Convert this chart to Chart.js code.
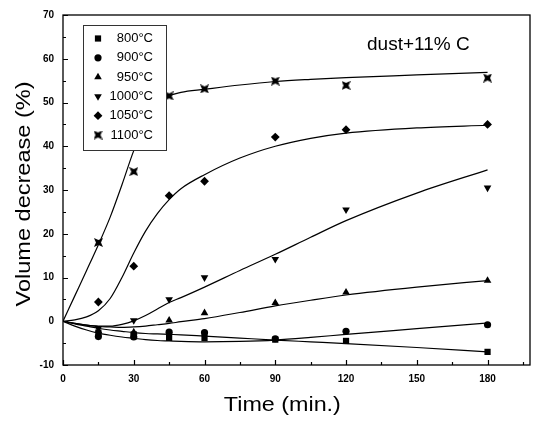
<!DOCTYPE html>
<html>
<head>
<meta charset="utf-8">
<script src="https://cdn.jsdelivr.net/npm/chart.js@4.4.0/dist/chart.umd.min.js"></script>
<style>
html, body { margin: 0; padding: 0; background: #fff; }
#wrap { width: 538px; height: 422px; }
</style>
</head>
<body>
<div id="wrap"><canvas id="chart" width="538" height="422"></canvas></div>
<script>
// measured points (min -> % volume decrease)
const sampleTime = [15, 30, 45, 60, 90, 120, 180];
const temps = ['800°C', '900°C', '950°C', '1000°C', '1050°C', '1100°C'];
const pts800  = [-2.6, -3.0, -3.8, -3.8, -4.2, -4.5, -7.0];
const pts900  = [-3.5, -3.6, -2.5, -2.6, -4.0, -2.3, -0.8];
const pts950  = [-2.2, -2.5, 0.2, 1.9, 4.2, 6.6, 9.3];
const pts1000 = [-1.6, 0.2, 5.0, 10.0, 14.2, 25.5, 30.5];
const pts1050 = [4.4, 12.6, 28.7, 32.0, 42.1, 43.8, 45.0];
const pts1100 = [18.0, 34.2, 51.5, 53.1, 54.9, 53.9, 55.6];

// fitted curves
const fitTime = [0, 5, 10, 15, 20, 25, 30, 35, 40, 45, 50, 60, 75, 90, 105, 120, 150, 180];
const fit800  = [0, -0.6, -1.1, -1.6, -2.0, -2.3, -2.6, -2.8, -2.9, -3.0, -3.1, -3.4, -3.85, -4.3, -4.7, -5.1, -6.0, -7.0];
const fit900  = [0, -1.1, -2.0, -2.7, -3.2, -3.6, -3.9, -4.2, -4.4, -4.5, -4.6, -4.7, -4.6, -4.3, -3.7, -3.0, -1.7, -0.4];
const fit950  = [0, -0.5, -0.9, -1.2, -1.3, -1.4, -1.3, -1.1, -0.8, -0.5, -0.1, 0.6, 2.0, 3.5, 4.8, 6.0, 7.8, 9.3];
const fit1000 = [0, -0.5, -0.9, -1.1, -1.1, -0.7, 0.1, 1.3, 2.8, 4.3, 5.4, 7.8, 11.6, 15.3, 19.2, 23.0, 29.3, 34.6];
const fit1050 = [0, 0.3, 1.0, 2.4, 5.2, 10.0, 15.6, 20.6, 24.6, 27.8, 30.3, 33.5, 37.3, 40.0, 41.8, 43.0, 44.2, 44.8];
const fit1100 = [0, 5.8, 11.6, 17.5, 23.8, 31.2, 39.0, 45.2, 49.3, 51.5, 52.3, 53.0, 54.0, 54.8, 55.3, 55.7, 56.3, 56.9];

const xTicks = [0, 30, 60, 90, 120, 150, 180];
const yTicks = [-10, 0, 10, 20, 30, 40, 50, 60, 70];

const allPts = [pts800, pts900, pts950, pts1000, pts1050, pts1100];
const allFits = [fit800, fit900, fit950, fit1000, fit1050, fit1100];

// bowtie-like marker for 1100°C
function makeBowtie(s) {
    const c = document.createElement('canvas');
    c.width = s; c.height = s;
    const g = c.getContext('2d');
    const h = s / 2, n = s * 0.22;
    g.fillStyle = '#000';
    g.beginPath();
    g.moveTo(0, 0); g.lineTo(h, n); g.lineTo(s, 0); g.lineTo(s - n, h);
    g.lineTo(s, s); g.lineTo(h, s - n); g.lineTo(0, s); g.lineTo(n, h);
    g.closePath();
    g.fill();
    return c;
}
const bowtie = makeBowtie(9);

const markers = [
    { pointStyle: 'rect', radius: 4.4, rotation: 0 },
    { pointStyle: 'circle', radius: 3.6, rotation: 0 },
    { pointStyle: 'triangle', radius: 4.4, rotation: 0 },
    { pointStyle: 'triangle', radius: 4.4, rotation: 180 },
    { pointStyle: 'rectRot', radius: 4.4, rotation: 0 },
    { pointStyle: bowtie, radius: 4.5, rotation: 0 }
];

const datasets = [];
allFits.forEach((fit, i) => {
    datasets.push({
        type: 'line',
        label: temps[i] + ' fit',
        data: fitTime.map((t, k) => ({ x: t, y: fit[k] })),
        borderColor: '#000',
        borderWidth: 1.2,
        pointRadius: 0,
        cubicInterpolationMode: 'monotone',
        fill: false,
        order: 2
    });
});
allPts.forEach((pts, i) => {
    datasets.push({
        type: 'scatter',
        label: temps[i],
        data: sampleTime.map((t, k) => ({ x: t, y: pts[k] })),
        backgroundColor: '#000',
        borderColor: '#000',
        borderWidth: 0,
        pointStyle: markers[i].pointStyle,
        pointRadius: markers[i].radius,
        pointRotation: markers[i].rotation,
        showLine: false,
        order: 1
    });
});

function drawStretchedText(ctx, text, x, y, font, width, angle) {
    ctx.save();
    ctx.font = font;
    const w = ctx.measureText(text).width;
    ctx.translate(x, y);
    ctx.rotate(angle);
    ctx.scale(width / w, 1);
    ctx.textAlign = 'center';
    ctx.textBaseline = 'middle';
    ctx.fillStyle = '#000';
    ctx.fillText(text, 0, 0);
    ctx.restore();
}

const decorations = {
    id: 'decorations',
    afterDatasetsDraw(chart) {
        const ctx = chart.ctx;
        const a = chart.chartArea;
        const xs = chart.scales.x, ys = chart.scales.y;

        // frame
        ctx.save();
        ctx.strokeStyle = '#000';
        ctx.lineWidth = 1.3;
        ctx.strokeRect(a.left, a.top, a.right - a.left, a.bottom - a.top);

        // inward ticks
        ctx.lineWidth = 1.2;
        ctx.beginPath();
        for (let v = 0; v <= 195; v += 15) {
            const px = Math.round(xs.getPixelForValue(v)) + 0.5;
            const len = v % 30 === 0 ? 5 : 3;
            ctx.moveTo(px, a.bottom);
            ctx.lineTo(px, a.bottom - len);
        }
        for (let v = -10; v <= 70; v += 5) {
            const py = Math.round(ys.getPixelForValue(v)) + 0.5;
            const len = v % 10 === 0 ? 5 : 3;
            ctx.moveTo(a.left, py);
            ctx.lineTo(a.left + len, py);
        }
        ctx.stroke();

        // legend box
        const lx = a.left + 20, ly = a.top + 10, lw = 83, lh = 125;
        ctx.fillStyle = '#fff';
        ctx.fillRect(lx, ly, lw, lh);
        ctx.strokeStyle = '#333';
        ctx.lineWidth = 1;
        ctx.strokeRect(lx + 0.5, ly + 0.5, lw, lh);
        ctx.font = '13px "Liberation Sans", Arial, sans-serif';
        ctx.textAlign = 'right';
        ctx.textBaseline = 'middle';
        temps.forEach((t, i) => {
            const ry = ly + 13.5 + i * 19.3;
            ctx.fillStyle = '#000';
            ctx.strokeStyle = '#000';
            Chart.helpers.drawPoint(ctx, {
                pointStyle: markers[i].pointStyle,
                radius: markers[i].radius,
                rotation: markers[i].rotation,
                borderWidth: 0
            }, lx + 15, ry);
            ctx.fillStyle = '#000';
            ctx.fillText(t, lx + 70, ry);
        });

        // annotation
        ctx.textAlign = 'left';
        ctx.textBaseline = 'alphabetic';
        ctx.font = '19px "Liberation Sans", Arial, sans-serif';
        ctx.fillText('dust+11% C', a.left + 304, a.top + 35);
        ctx.restore();

        // axis titles
        const font = '20px "Liberation Sans", Arial, sans-serif';
        drawStretchedText(ctx, 'Time (min.)', xs.getPixelForValue(93), 405, font, 117, 0);
        drawStretchedText(ctx, 'Volume decrease (%)', 24, 194, font, 225, -Math.PI / 2);
    }
};

new Chart(document.getElementById('chart'), {
    data: { datasets: datasets },
    options: {
        responsive: false,
        animation: false,
        events: [],
        layout: { padding: { top: 12, right: 8, left: 0, bottom: 0 } },
        plugins: { legend: { display: false }, tooltip: { enabled: false } },
        scales: {
            x: {
                type: 'linear',
                min: 0,
                max: 198,
                grid: { display: false, drawTicks: false },
                border: { display: false },
                afterBuildTicks: s => { s.ticks = xTicks.map(v => ({ value: v })); },
                afterFit: s => { s.height = 57; },
                ticks: {
                    padding: 8,
                    color: '#000',
                    font: { family: '"Liberation Sans", Arial, sans-serif', size: 10, weight: 'bold' },
                    maxRotation: 0,
                    autoSkip: false
                }
            },
            y: {
                type: 'linear',
                min: -10,
                max: 70,
                grid: { display: false, drawTicks: false },
                border: { display: false },
                afterBuildTicks: s => { s.ticks = yTicks.map(v => ({ value: v })); },
                afterFit: s => { s.width = 63; },
                ticks: {
                    padding: 9,
                    color: '#000',
                    font: { family: '"Liberation Sans", Arial, sans-serif', size: 10, weight: 'bold' },
                    autoSkip: false
                }
            }
        }
    },
    plugins: [decorations]
});
</script>
</body>
</html>
